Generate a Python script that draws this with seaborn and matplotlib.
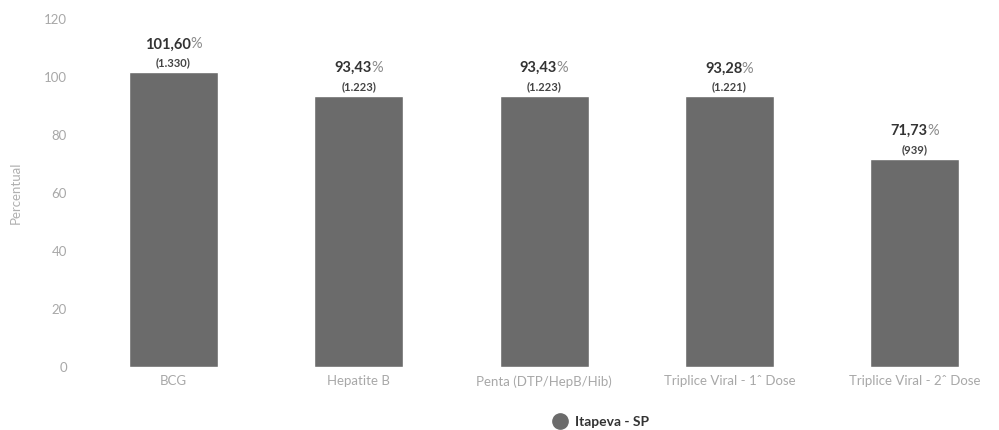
import matplotlib
matplotlib.use('Agg')
import matplotlib.pyplot as plt
import seaborn as sns
import pandas as pd
from matplotlib.lines import Line2D

vacinas = ['BCG', 'Hepatite B', 'Penta (DTP/HepB/Hib)',
           'Tríplice Viral - 1ª Dose', 'Tríplice Viral - 2ª Dose']
tick_labels = ['BCG', 'Hepatite B', 'Penta (DTP/HepB/Hib)',
               'Triplice Viral - 1ˆ Dose', 'Triplice Viral - 2ˆ Dose']
percentual = [101.60, 93.43, 93.43, 93.28, 71.73]
doses = ['1.330', '1.223', '1.223', '1.221', '939']
yticks = [0, 20, 40, 60, 80, 100, 120]

sns.set_theme(style='white')
plt.rcParams['font.family'] = ['Lato', 'DejaVu Sans']

df = pd.DataFrame({'vacina': vacinas, 'percentual': percentual})

fig = plt.figure(figsize=(9.99, 4.30), dpi=100)
ax = fig.add_axes([0.081, 0.1465, 0.918, 0.8095])

sns.barplot(data=df, x='vacina', y='percentual', color='#6b6b6b',
            saturation=1, width=0.48, ax=ax)

ax.set_xlim(-0.5, 4.45)
ax.set_ylim(0, 120)
ax.set_yticks(yticks)
ax.set_yticklabels([str(t) for t in yticks])
ax.set_xticks(range(len(tick_labels)))
ax.set_xticklabels(tick_labels)
ax.tick_params(axis='x', colors='#a8a8a8', labelsize=9.5, length=0, pad=6)
ax.tick_params(axis='y', colors='#a8a8a8', labelsize=9.5, length=0, pad=10)
ax.set_xlabel('')
ax.set_ylabel('Percentual', color='#b0b0b0', fontsize=9.5)
ax.yaxis.set_label_coords(-0.064, 0.5)
sns.despine(ax=ax, left=True, bottom=True)

for i, (p, d) in enumerate(zip(percentual, doses)):
    val = f'{p:.2f}'.replace('.', ',')
    t = ax.annotate(val, xy=(i, p), xytext=(-4, 15), textcoords='offset points',
                    ha='center', va='bottom', fontsize=10.5, fontweight='bold',
                    color='#333333')
    ax.annotate('%', xy=(1, 0), xycoords=t, xytext=(-0.5, 0),
                textcoords='offset points', ha='left', va='bottom',
                fontsize=10.5, color='#8a8a8a')
    ax.annotate(f'({d})', xy=(i, p), xytext=(0, 3), textcoords='offset points',
                ha='center', va='bottom', fontsize=8, fontweight='bold',
                color='#444444')

handle = Line2D([], [], marker='o', linestyle='', markersize=11,
                markerfacecolor='#6b6b6b', markeredgecolor='#6b6b6b')
leg = fig.legend([handle], ['Itapeva - SP'], loc='center',
                 bbox_to_anchor=(0.598, 0.019), frameon=False,
                 handletextpad=0.1, prop={'weight': 'bold', 'size': 10})
for txt in leg.get_texts():
    txt.set_color('#333333')

fig.savefig('out.png', dpi=100, facecolor='white')
